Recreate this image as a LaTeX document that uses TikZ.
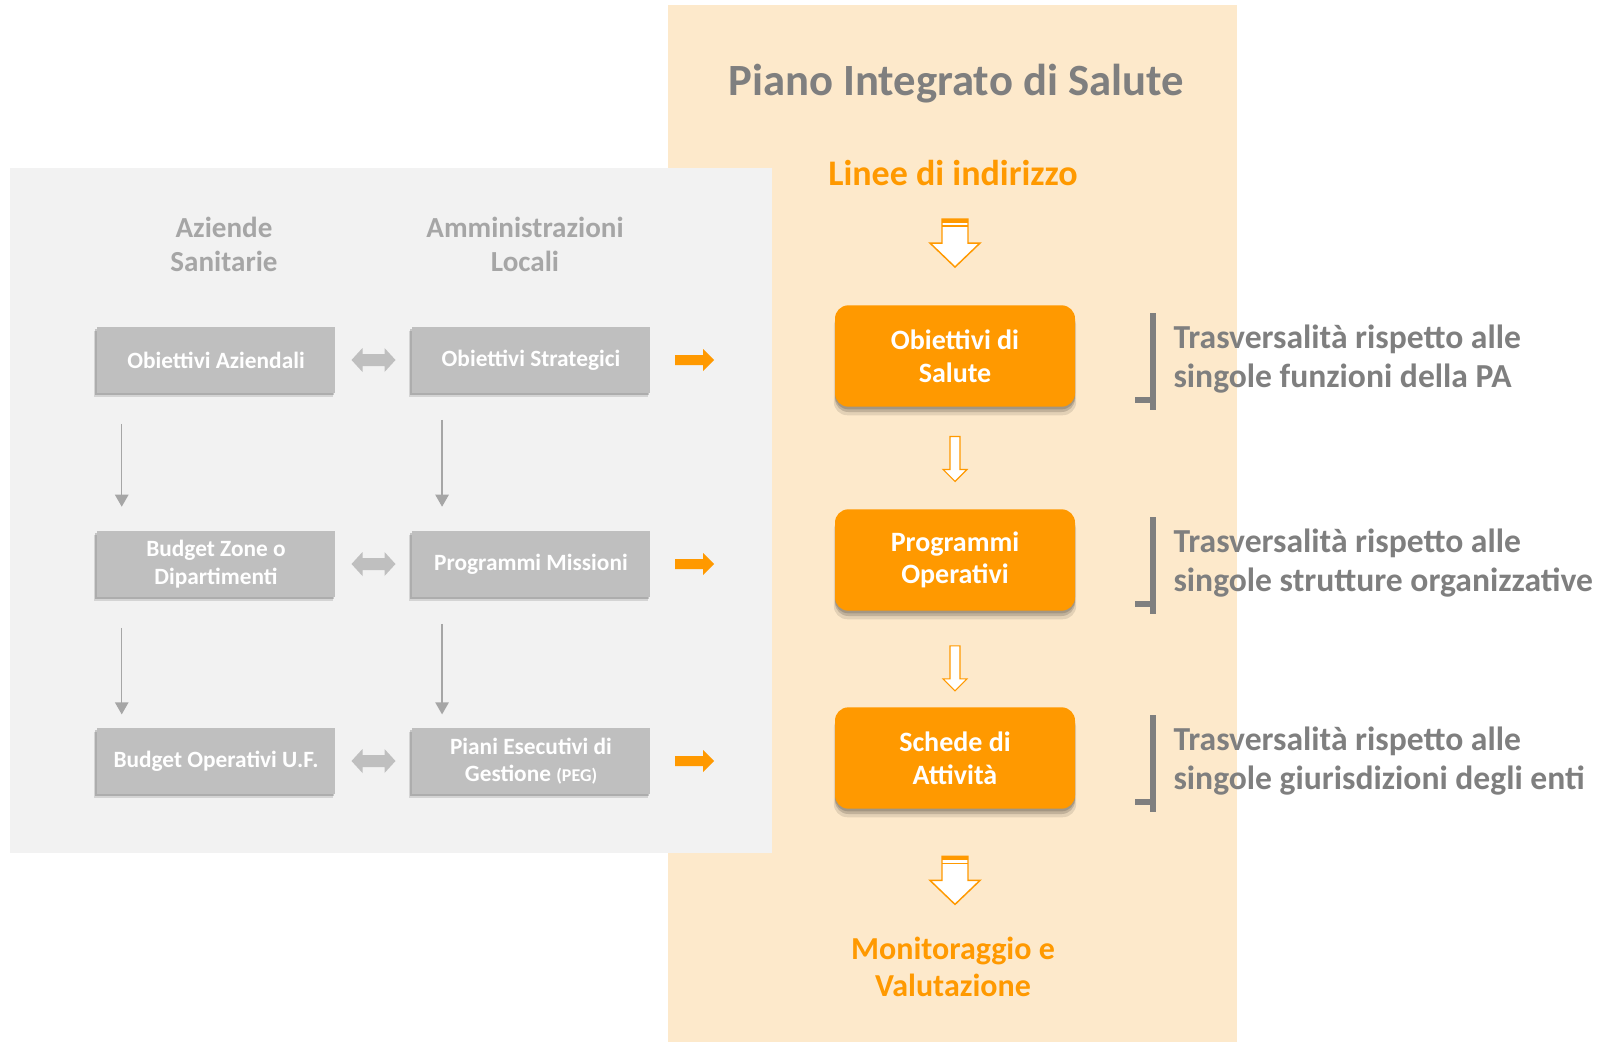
\documentclass[tikz,border=0pt]{standalone}
\usepackage{fontspec}
\setmainfont{Carlito}
\usetikzlibrary{positioning,calc,shadows,arrows.meta}

\definecolor{peach}{HTML}{FDE9CB}
\definecolor{panel}{HTML}{F2F2F2}
\definecolor{boxgray}{HTML}{BFBFBF}
\definecolor{orng}{HTML}{FF9900}
\definecolor{txtgray}{HTML}{7F7F7F}
\definecolor{hdgray}{HTML}{A6A6A6}

\begin{document}
\begin{tikzpicture}[x=0.75pt, y=-0.75pt,
    graybox/.style={fill=boxgray, minimum width=179pt, minimum height=49.5pt, inner sep=2pt,
        align=center, text=white, font=\bfseries\fontsize{17.5}{20.5}\selectfont,
        drop shadow={shadow xshift=-1pt, shadow yshift=-1.5pt, fill=black, opacity=0.18},
        drop shadow={shadow xshift=-2pt, shadow yshift=-3pt, fill=black, opacity=0.12}},
    orbox/.style={fill=orng, rounded corners=10pt, minimum width=180pt, minimum height=76pt,
        align=center, text=white, font=\bfseries\fontsize{21}{24.5}\selectfont,
        drop shadow={shadow xshift=0pt, shadow yshift=-2pt, fill=black, opacity=0.15},
        drop shadow={shadow xshift=0pt, shadow yshift=-4pt, fill=black, opacity=0.15},
        drop shadow={shadow xshift=0pt, shadow yshift=-6pt, shadow scale=1.01, fill=black, opacity=0.1}},
    header/.style={align=center, text=hdgray, font=\bfseries\fontsize{21.8}{25.5}\selectfont},
    sidetext/.style={anchor=west, align=left, text=txtgray, inner sep=0pt,
        font=\bfseries\fontsize{25.2}{29.5}\selectfont},
    garrow/.style={draw=hdgray, line width=1.1pt, -{Triangle[width=10pt,length=9pt]}},
    pics/fatarrow/.style={code={
        \draw[orng, line width=1.1pt, fill=white] (-13,-24) -- (13,-24) -- (13,0) -- (25,0)
            -- (0,24) -- (-25,0) -- (-13,0) -- cycle;
        \fill[orng] (-13,-24) rectangle (13,-20);
        \draw[orng, line width=1pt] (-13,-17) -- (13,-17);
    }},
    pics/thinarrow/.style={code={
        \draw[orng, line width=0.9pt, fill=white] (-5,-22) -- (5,-22) -- (5,11) -- (12,11)
            -- (0,23) -- (-12,11) -- (-5,11) -- cycle;
    }},
    pics/dblarrow/.style={code={
        \fill[boxgray] (-22,0) -- (-11,-12) -- (-11,-6) -- (11,-6) -- (11,-12) -- (22,0)
            -- (11,12) -- (11,6) -- (-11,6) -- (-11,12) -- cycle;
    }},
    pics/orarrow/.style={code={
        \fill[orng] (-19.5,-5) -- (8.5,-5) -- (8.5,-11) -- (19.5,0) -- (8.5,11) -- (8.5,5)
            -- (-19.5,5) -- cycle;
    }}]
    \useasboundingbox (0,0) rectangle (1600,1042);

    % PEACH PANEL
    \fill[peach] (668,5) rectangle (1237,1042);
    % GRAY PANEL
    \fill[panel] (10,168) rectangle (772,853);

    \node[text=txtgray, font=\bfseries\fontsize{33.5}{38}\selectfont] (title) at (956,84) {Piano Integrato di Salute};
    \node[text=orng, font=\bfseries\fontsize{27}{30}\selectfont] (li) at (953,173) {Linee di indirizzo};
    \node[align=center, text=orng, font=\bfseries\fontsize{24}{28}\selectfont] (mv) at (953,967) {Monitoraggio e\\Valutazione};

    \node[header] (hAz) at (224,244) {Aziende\\Sanitarie};
    \node[header] (hAm) at (525,244) {Amministrazioni\\Locali};

    % GRAY BOXES
    \foreach \y/\a/\b [count=\i] in {360/{Obiettivi Aziendali}/{Obiettivi Strategici},
            564/{Budget Zone o\\Dipartimenti}/{Programmi Missioni},
            761/{Budget Operativi U.F.}/{Piani Esecutivi di\\Gestione {\fontsize{13.5}{14}\selectfont(PEG)}}} {
        \node[graybox] (az\i) at (216,\y) {\a};
        \node[graybox] (am\i) at (531,\y) {\b};
        \pic at ($(az\i.east)!0.5!(am\i.west)$) {dblarrow};
        \pic at ([xshift=33pt]am\i.east) {orarrow};
    }
    \foreach \i/\j/\e in {1/2/18, 2/3/10} {
        \draw[garrow] ([xshift=19pt, yshift=-23pt]az\i.south west) -- ([xshift=19pt, yshift=\e pt]az\j.north west);
        \draw[garrow] ([xshift=23pt, yshift=-20pt]am\i.south west) -- ([xshift=23pt, yshift=\e pt]am\j.north west);
    }

    % ORANGE BOXES
    \foreach \y/\t [count=\i] in {356/{Obiettivi di\\Salute}, 560/{Programmi\\Operativi}, 758/{Schede di\\Attivit\`a}} {
        \node[orbox] (os\i) at (955,\y) {\t};
    }
    \pic at ([yshift=46.5pt]os1.north) {fatarrow};
    \pic at ([yshift=-38.6pt]os1.south) {thinarrow};
    \pic at ([yshift=-42.7pt]os2.south) {thinarrow};
    \pic at ([yshift=-53.6pt]os3.south) {fatarrow};

    % BRACKETS
    \foreach \i/\t in {1/{Trasversalit\`a rispetto alle\\singole funzioni della PA},
            2/{Trasversalit\`a rispetto alle\\singole strutture organizzative},
            3/{Trasversalit\`a rispetto alle\\singole giurisdizioni degli enti}} {
        \draw[txtgray, line width=4.5pt] ([xshift=58.5pt, yshift=-6pt]os\i.north east)
            -- ([xshift=58.5pt, yshift=-2pt]os\i.south east);
        \draw[txtgray, line width=4.5pt] ([xshift=45pt, yshift=5pt]os\i.south east)
            -- ([xshift=60.75pt, yshift=5pt]os\i.south east);
        \node[sidetext] (tr\i) at ([xshift=73.5pt, yshift=-2.5pt]os\i.east) {\t};
    }
\end{tikzpicture}
\end{document}
